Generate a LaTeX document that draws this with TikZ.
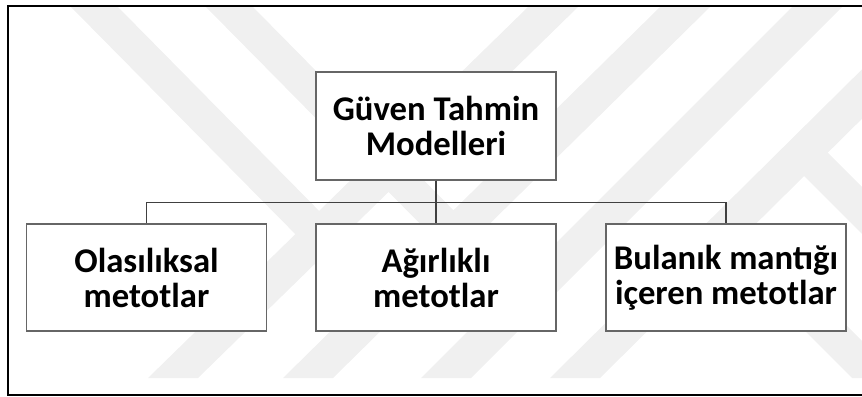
\documentclass[tikz,border=0pt]{standalone}
\usepackage{fontspec}
\setmainfont{Carlito}
\usepackage{tikz}

\begin{document}
\begin{tikzpicture}[x=0.75pt,y=-0.75pt,
  kutu/.style={draw=black!60, line width=0.8pt, fill=white, minimum width=180pt, minimum height=80.25pt, inner sep=0pt, align=center, font=\bfseries\fontsize{26}{26.25}\selectfont},
  baglanti/.style={draw=black!75, line width=0.8pt},
  filigran/.style={fill=black!6}]
\useasboundingbox (0,0) rectangle (862,396);
\begin{scope}
\clip (8,6) rectangle (862,378);
\foreach \xt/\xb in {528/148, 660/283, 792/421, 925/550}
  \fill[filigran] (\xt,7) -- (\xt+50,7) -- (\xb+50,378) -- (\xb,378) -- cycle;
\fill[filigran] (71,7) -- (118,7) -- (332,224) -- (308,247) -- cycle;
\fill[filigran] (206,7) -- (253,7) -- (466,223) -- (442,246) -- cycle;
\fill[filigran] (794,166) -- (818,143) -- (1053,378) -- (1006,378) -- cycle;
\fill[filigran] (774,300) -- (821,300) -- (899,378) -- (852,378) -- cycle;
\end{scope}
\draw[line width=2.2pt] (8,6) rectangle (866,395);

\node[kutu, minimum height=81pt] (guven) at (436,126) {Güven Tahmin\\Modelleri};
\node[kutu] (olasilik) at (146.5,277.5) {Olasılıksal\\metotlar};
\node[kutu] (agirlik) at (436,277.5) {Ağırlıklı\\metotlar};
\node[kutu] (bulanik) at (726,277.5) {Bulanık mantığı\\içeren metotlar};

\draw[baglanti] (guven.south) -- (agirlik.north);
\draw[baglanti] (guven.south) -- ++(0,22) -| (olasilik.north);
\draw[baglanti] (guven.south) -- ++(0,22) -| (bulanik.north);
\end{tikzpicture}
\end{document}
